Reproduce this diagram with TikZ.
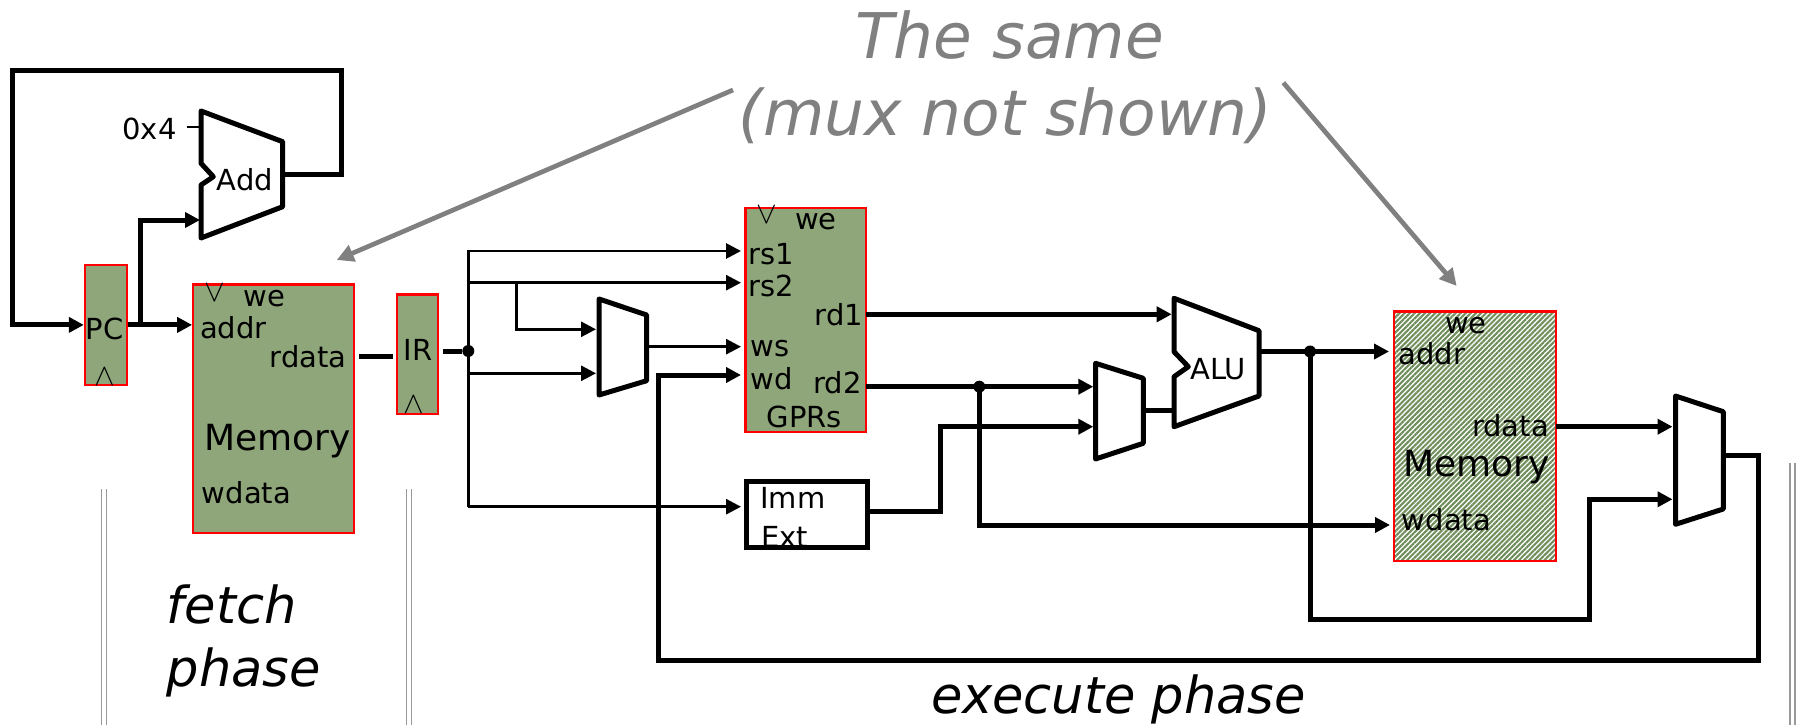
\documentclass[tikz,border=0pt]{standalone}
\usepackage{fontspec}
\setmainfont{DejaVu Sans}
\usetikzlibrary{arrows.meta,patterns.meta}
\definecolor{regfill}{RGB}{143,166,122}
\definecolor{hatchgreen}{RGB}{112,142,92}
\definecolor{notegray}{RGB}{128,128,128}
\newcommand{\portFont}[0]{\fontsize{29}{34}\selectfont}
\newcommand{\unitFont}[0]{\fontsize{36}{42}\selectfont}
\newcommand{\noteFont}[0]{\fontsize{63}{76}\selectfont\itshape}
\newcommand{\phaseFont}[0]{\fontsize{51}{64}\selectfont\itshape}
\newcommand{\clkMark}[1]{\scalebox{3.1}{$#1$}}

\begin{document}
\begin{tikzpicture}[x=1pt, y=-1pt, font=\portFont, inner sep=0pt,
    wire/.style={line width=5pt},
    thinwire/.style={line width=2.8pt},
    tip/.style={-{Triangle[length=15pt,width=15pt]}},
    reg/.style={draw=red, line width=2.2pt, fill=regfill, anchor=north west},
    unit/.style={line width=5pt, line join=round},
    dot/.style={circle, fill, minimum size=12pt},
    clk/.style={font=\normalsize, anchor=base},
    sep/.style={draw=black!40, line width=1.5pt, double distance=3.5pt},
    pointer/.style={draw=notegray, line width=4.7pt, -{Triangle[length=17pt,width=17pt]}}]
  \useasboundingbox (0,0) rectangle (1802,725);

  \node[reg, minimum width=41.8pt, minimum height=120pt] (pc) at (83.8,263.8) {};
  \node[reg, minimum width=161pt, minimum height=248.8pt] (imem) at (192.1,283.4) {};
  \node[reg, minimum width=41pt, minimum height=119.8pt] (ir) at (396.1,293.4) {};
  \node[reg, minimum width=120.4pt, minimum height=223.8pt] (gprs) at (744.4,206.8) {};
  \node[draw=red, line width=2.2pt, anchor=north west,
        pattern={Lines[angle=45,distance=3.6pt,line width=2.1pt]}, pattern color=hatchgreen,
        minimum width=161.8pt, minimum height=249.2pt] (dmem) at (1392.8,310.4) {};

  \draw[unit] (201,111) -- (282.7,141.7) -- (282.7,206.7) -- (201,238) -- (201,185)
    -- (213.3,176.7) -- (201,163.3) -- cycle;
  \draw[unit] (599,299) -- (646.7,315) -- (646.7,380.7) -- (599,395) -- cycle;
  \draw[unit] (1095.5,363.3) -- (1143.3,378.3) -- (1143.3,443.3) -- (1095.5,459) -- cycle;
  \draw[unit] (1174,298.3) -- (1259,330.7) -- (1259,396) -- (1174,426.7) -- (1174,376.7)
    -- (1188.3,366.7) -- (1174,351.7) -- cycle;
  \draw[unit] (1675.5,396) -- (1723.3,411.7) -- (1723.3,509) -- (1675.5,524.3) -- cycle;

  \node[anchor=base east] (four) at (176.7,139.3) {0x4};
  \node[anchor=base west] (addlbl) at (216.7,190) {Add};
  \node[anchor=base] (pclbl) at (104.7,339.3) {PC};
  \node[clk] (pcclk) at (104.5,385) {\clkMark{\wedge}};
  \node[clk] (imemclk) at (215,301.7) {\clkMark{\vee}};
  \node[anchor=base west] (imemwe) at (243.3,306.7) {we};
  \node[anchor=base west] (imemaddr) at (200,338.3) {addr};
  \node[anchor=base east] (imemrd) at (346.7,367.3) {rdata};
  \node[font=\unitFont, anchor=base west] (imemlbl) at (204,450) {Memory};
  \node[anchor=base west] (imemwd) at (201.7,503.3) {wdata};
  \node[anchor=base] (irlbl) at (418.3,360) {IR};
  \node[clk] (irclk) at (414,413.5) {\clkMark{\wedge}};
  \node[clk] (gprclk) at (766.7,223.3) {\clkMark{\vee}};
  \node[anchor=base west] (gprwe) at (795,229.3) {we};
  \node[anchor=base west] (gprrs1) at (748.3,264) {rs1};
  \node[anchor=base west] (gprrs2) at (748.3,296) {rs2};
  \node[anchor=base east] (gprrd1) at (863.3,325) {rd1};
  \node[anchor=base west] (gprws) at (750.7,356.7) {ws};
  \node[anchor=base west] (gprwd) at (750.7,389.3) {wd};
  \node[anchor=base east] (gprrd2) at (861.7,393.3) {rd2};
  \node[anchor=base] (gprlbl) at (804.2,427.3) {GPRs};
  \node[anchor=base west] (immlbl) at (760,508) {Imm};
  \node[anchor=base west] (extlbl) at (761,547) {Ext};
  \node[draw, line width=5pt, anchor=north west, minimum width=120.6pt, minimum height=66pt] (imm) at (744.2,479.2) {};
  \node[anchor=base west] (alulbl) at (1190,379.3) {ALU};
  \node[anchor=base west] (dmemwe) at (1445,333.3) {we};
  \node[anchor=base west] (dmemaddr) at (1398.3,364) {addr};
  \node[anchor=base east] (dmemrd) at (1549,436.7) {rdata};
  \node[font=\unitFont, anchor=base west] (dmemlbl) at (1403.3,476) {Memory};
  \node[anchor=base west] (dmemwd) at (1401.7,530) {wdata};

  \coordinate (addA) at (200,220);
  \coordinate (addB) at (201,126.7);
  \coordinate (addOut) at (282.7,174);
  \coordinate (loopR) at (341.7,70.7);
  \coordinate (loopL) at (12.7,70.7);
  \coordinate (pcTap) at (140,323.8);
  \coordinate (tickL) at (186.7,126.7);
  \coordinate (rdOut) at (359,356);
  \coordinate (irIn) at (392.7,356);
  \coordinate (irOut) at (443.3,351);
  \node[dot] (irdot) at (468.3,351) {};
  \coordinate (busTop) at (468.3,251);
  \coordinate (busBot) at (468.3,506.7);
  \coordinate (rs2Tap) at (468.3,282.7);
  \coordinate (wsTap) at (516.7,282.7);
  \coordinate (rdTap) at (468.3,373.3);
  \coordinate (rs1In) at (741,251);
  \coordinate (rs2In) at (741,282.7);
  \coordinate (wsA) at (596,329.3);
  \coordinate (wsB) at (596,373.3);
  \coordinate (wsOut) at (646.7,346.7);
  \coordinate (wsIn) at (741,346.7);
  \coordinate (wdUp) at (658.3,375);
  \coordinate (wdIn) at (741,375);
  \coordinate (immIn) at (741,506.7);
  \coordinate (immOut) at (865,511.7);
  \coordinate (immUp) at (940,426.7);
  \coordinate (rd1Out) at (866,314.3);
  \coordinate (rd2Out) at (866,386.7);
  \node[dot] (rd2dot) at (979.3,386.7) {};
  \coordinate (bA) at (1093.3,386.7);
  \coordinate (bB) at (1093.3,426.7);
  \coordinate (bOut) at (1143.3,410);
  \coordinate (aluA) at (1171.7,314.3);
  \coordinate (aluB) at (1174,410);
  \coordinate (aluOut) at (1259,351.5);
  \node[dot] (aludot) at (1310,351.5) {};
  \coordinate (addrIn) at (1389,351.5);
  \coordinate (wdataIn) at (1390,525);
  \coordinate (fwdLow) at (1589,619);
  \coordinate (rdataOut) at (1555.7,426.7);
  \coordinate (wbA) at (1672.5,426.7);
  \coordinate (wbB) at (1672.5,499.3);
  \coordinate (wbOut) at (1723.3,455.7);
  \coordinate (loopE) at (1758.3,660);

  \draw[wire, tip] (addOut) -| (loopR) -- (loopL) |- (pc.west);
  \draw[wire, tip] (pc.east) -- (imem.west |- pc.east);
  \draw[wire, tip] (pcTap) |- (addA);
  \draw[line width=1.7pt] (tickL) -- (addB);
  \draw[wire] (rdOut) -- (irIn);
  \draw[wire] (irOut) -- (irdot);
  \draw[thinwire, tip] (busBot) -- (busTop) -- (rs1In);
  \draw[thinwire, tip] (rs2Tap) -- (rs2In);
  \draw[thinwire, tip] (wsTap) |- (wsA);
  \draw[thinwire, tip] (rdTap) -- (wsB);
  \draw[thinwire, tip] (wsOut) -- (wsIn);
  \draw[thinwire, tip] (busBot) -- (immIn);
  \draw[wire, tip] (rd1Out) -- (aluA);
  \draw[wire, tip] (rd2Out) -- (bA);
  \draw[wire, tip] (rd2dot.center) |- (wdataIn);
  \draw[wire, tip] (immOut) -| (immUp) -- (bB);
  \draw[wire] (bOut) -- (aluB);
  \draw[wire, tip] (aluOut) -- (addrIn);
  \draw[wire, tip] (aludot.center) |- (fwdLow) |- (wbB);
  \draw[wire, tip] (rdataOut) -- (wbA);
  \draw[wire, tip] (wbOut) -| (loopE) -| (wdUp) -- (wdIn);

  \node[font=\noteFont, text=notegray, anchor=base] (same1) at (1009.7,58.3) {The same};
  \node[font=\noteFont, text=notegray, anchor=base] (same2) at (1005.5,135) {(mux not shown)};
  \coordinate (noteL) at (733,90);
  \coordinate (noteLtip) at (336.7,260);
  \coordinate (noteR) at (1283.3,82.7);
  \coordinate (noteRtip) at (1456.7,286);
  \draw[pointer] (noteL) -- (noteLtip);
  \draw[pointer] (noteR) -- (noteRtip);

  \node[font=\phaseFont, anchor=base west] (fetch) at (166.7,623.3) {fetch};
  \node[font=\phaseFont, anchor=base west] (fetchb) at (166.7,686.7) {phase};
  \node[font=\phaseFont, anchor=base west] (exec) at (930.8,713.3) {execute phase};
  \draw[sep] (104,489) -- (104,725);
  \draw[sep] (409.2,489) -- (409.2,725);
  \draw[sep] (1792.5,462.7) -- (1792.5,725);
\end{tikzpicture}
\end{document}
